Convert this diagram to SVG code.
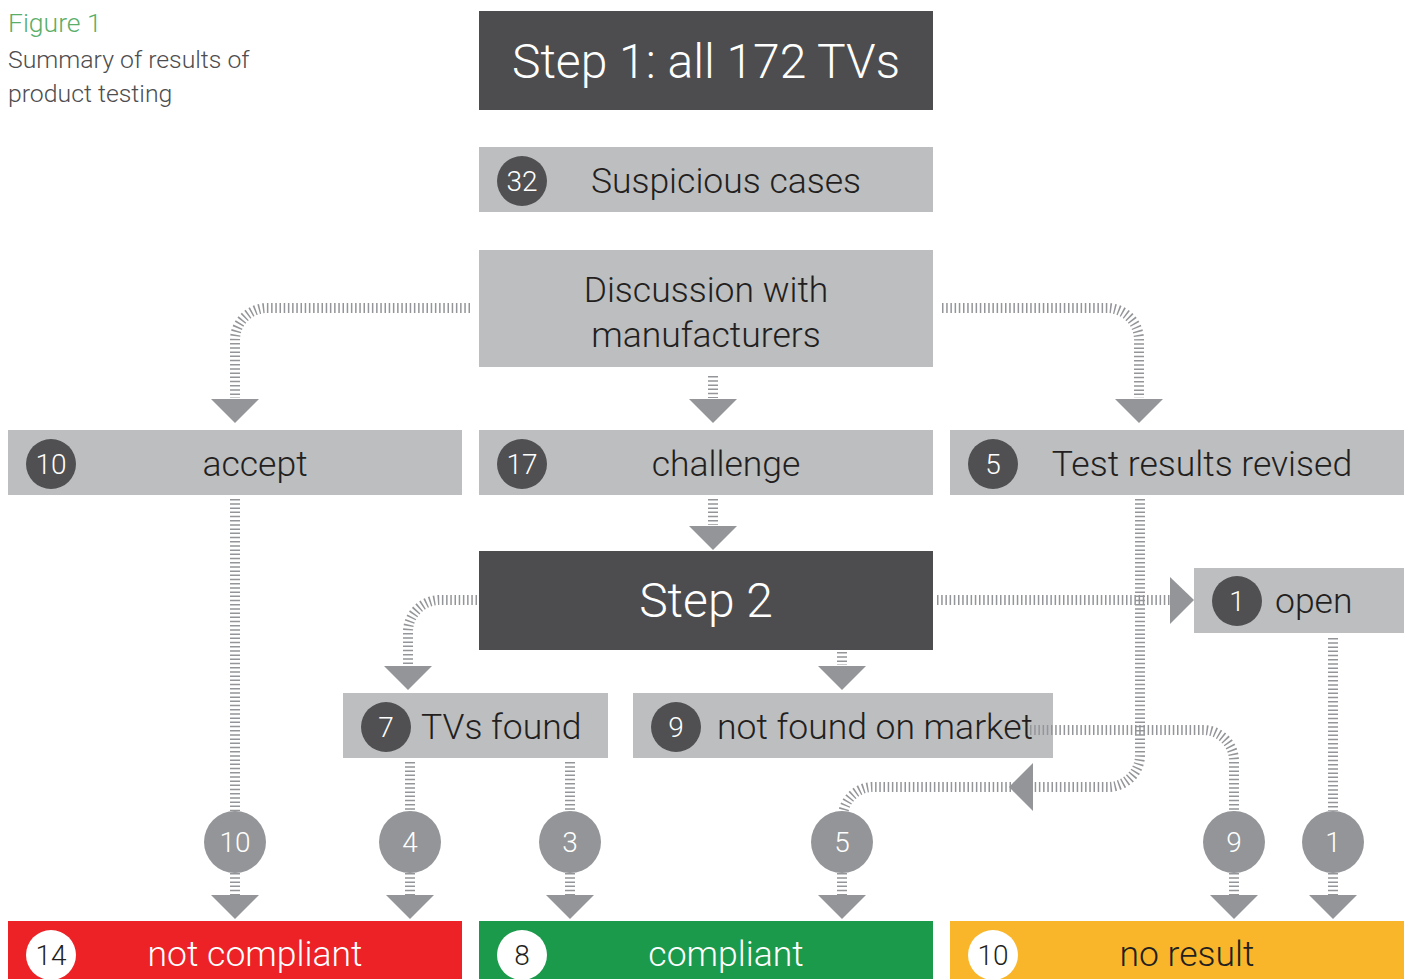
<svg xmlns="http://www.w3.org/2000/svg" width="1408" height="979" viewBox="0 0 1408 979">
  <style>
    text { font-family: Roboto, "Liberation Sans", sans-serif; font-weight: 300; }
    .box { fill: #bcbec0; }
    .dark { fill: #4d4d4f; }
    .dot { fill: #505052; }
    .gdot { fill: #939598; }
    .wdot { fill: #ffffff; }
    .lbl { font-size: 35.5px; fill: #231f20; }
    .big { font-size: 48px; fill: #ffffff; }
    .num { font-size: 28px; fill: #ffffff; text-anchor: middle; }
    .numd { font-size: 28px; fill: #231f20; text-anchor: middle; }
    .mid { text-anchor: middle; }
    .c { fill: none; stroke: #939598; stroke-width: 10; stroke-dasharray: 1.5 2.7; }
    .a { fill: #939598; }
  </style>

  <!-- caption -->
  <g id="caption">
    <text x="8" y="32" font-size="26.5" fill="#5aae6a">Figure 1</text>
    <text x="8" y="68" font-size="24.8" fill="#4d4d4f">Summary of results of</text>
    <text x="8" y="102" font-size="24.8" fill="#4d4d4f">product testing</text>
  </g>

  <!-- nodes -->
  <g id="step1">
    <rect class="dark" x="479" y="11" width="454" height="99"/>
    <text class="big mid" x="706" y="78">Step 1: all 172 TVs</text>
  </g>
  <g id="suspicious">
    <rect class="box" x="479" y="147" width="454" height="65"/>
    <circle class="dot" cx="522" cy="181" r="25"/>
    <text class="num" x="522" y="191">32</text>
    <text class="lbl mid" x="726" y="193">Suspicious cases</text>
  </g>
  <g id="discussion">
    <rect class="box" x="479" y="250" width="454" height="117"/>
    <text class="lbl mid" x="706" y="302">Discussion with</text>
    <text class="lbl mid" x="706" y="347">manufacturers</text>
  </g>
  <g id="accept">
    <rect class="box" x="8" y="430" width="454" height="65"/>
    <circle class="dot" cx="51" cy="464" r="25"/>
    <text class="num" x="51" y="474">10</text>
    <text class="lbl mid" x="255" y="476">accept</text>
  </g>
  <g id="challenge">
    <rect class="box" x="479" y="430" width="454" height="65"/>
    <circle class="dot" cx="522" cy="464" r="25"/>
    <text class="num" x="522" y="474">17</text>
    <text class="lbl mid" x="726" y="476">challenge</text>
  </g>
  <g id="revised">
    <rect class="box" x="950" y="430" width="454" height="65"/>
    <circle class="dot" cx="993" cy="464" r="25"/>
    <text class="num" x="993" y="474">5</text>
    <text class="lbl mid" x="1202" y="476">Test results revised</text>
  </g>
  <g id="step2">
    <rect class="dark" x="479" y="551" width="454" height="99"/>
    <text class="big mid" x="706" y="617">Step 2</text>
  </g>
  <g id="open">
    <rect class="box" x="1194" y="568" width="210" height="65"/>
    <circle class="dot" cx="1237" cy="601" r="25"/>
    <text class="num" x="1237" y="611">1</text>
    <text class="lbl" x="1275" y="613">open</text>
  </g>
  <g id="found">
    <rect class="box" x="343" y="693" width="265" height="65"/>
    <circle class="dot" cx="386" cy="727" r="25"/>
    <text class="num" x="386" y="737">7</text>
    <text class="lbl" x="421" y="739">TVs found</text>
  </g>
  <g id="notfound">
    <rect class="box" x="633" y="693" width="420" height="65"/>
    <circle class="dot" cx="676" cy="727" r="25"/>
    <text class="num" x="676" y="737">9</text>
    <text class="lbl" x="717" y="739">not found on market</text>
  </g>
  <g id="notcompliant">
    <rect x="8" y="921" width="454" height="58" fill="#ec2227"/>
    <circle class="wdot" cx="51" cy="955" r="25"/>
    <text class="numd" x="51" y="965">14</text>
    <text class="lbl mid" x="255" y="966" style="fill:#ffffff">not compliant</text>
  </g>
  <g id="compliant">
    <rect x="479" y="921" width="454" height="58" fill="#1b9a4c"/>
    <circle class="wdot" cx="522" cy="955" r="25"/>
    <text class="numd" x="522" y="965">8</text>
    <text class="lbl mid" x="726" y="966" style="fill:#ffffff">compliant</text>
  </g>
  <g id="noresult">
    <rect x="950" y="921" width="454" height="58" fill="#f9b62a"/>
    <circle class="wdot" cx="993" cy="955" r="25"/>
    <text class="numd" x="993" y="965">10</text>
    <text class="lbl mid" x="1187" y="966">no result</text>
  </g>

  <!-- connectors -->
  <g id="connectors">
    <path class="c" d="M470,308 H267 A32,32 0 0 0 235,340 V398"/>
    <path class="c" d="M942,308 H1107 A32,32 0 0 1 1139,340 V398"/>
    <path class="c" d="M713,376 V398"/>
    <path class="c" d="M713,499 V525"/>
    <path class="c" d="M477,600 H440 A32,32 0 0 0 408,632 V665"/>
    <path class="c" d="M937,600 H1170"/>
    <path class="c" d="M842,652 V665"/>
    <path class="c" d="M235,499 V811 M235,873 V895"/>
    <path class="c" d="M410,762 V811 M410,873 V895"/>
    <path class="c" d="M570,762 V811 M570,873 V895"/>
    <path class="c" d="M1140,499 V755 A32,32 0 0 1 1108,787 H873 A30,30 0 0 0 843,817 M842,873 V895"/>
    <path class="c" d="M1030,730 H1203 A31,31 0 0 1 1234,761 V811 M1234,873 V895"/>
    <path class="c" d="M1333,638 V811 M1333,873 V895"/>

    <polygon class="a" points="211,399 259,399 235,423"/>
    <polygon class="a" points="1115,399 1163,399 1139,423"/>
    <polygon class="a" points="689,399 737,399 713,423"/>
    <polygon class="a" points="689,526 737,526 713,550"/>
    <polygon class="a" points="384,666 432,666 408,690"/>
    <polygon class="a" points="818,666 866,666 842,690"/>
    <polygon class="a" points="1170,577 1170,624 1194,600"/>
    <polygon class="a" points="1033,763 1033,811 1009,787"/>

    <circle class="gdot" cx="235" cy="842" r="31"/>
    <circle class="gdot" cx="410" cy="842" r="31"/>
    <circle class="gdot" cx="570" cy="842" r="31"/>
    <circle class="gdot" cx="842" cy="842" r="31"/>
    <circle class="gdot" cx="1234" cy="842" r="31"/>
    <circle class="gdot" cx="1333" cy="842" r="31"/>
    <text class="num" x="235" y="852">10</text>
    <text class="num" x="410" y="852">4</text>
    <text class="num" x="570" y="852">3</text>
    <text class="num" x="842" y="852">5</text>
    <text class="num" x="1234" y="852">9</text>
    <text class="num" x="1333" y="852">1</text>

    <polygon class="a" points="211,895 259,895 235,919"/>
    <polygon class="a" points="386,895 434,895 410,919"/>
    <polygon class="a" points="546,895 594,895 570,919"/>
    <polygon class="a" points="818,895 866,895 842,919"/>
    <polygon class="a" points="1210,895 1258,895 1234,919"/>
    <polygon class="a" points="1309,895 1357,895 1333,919"/>
  </g>
</svg>
